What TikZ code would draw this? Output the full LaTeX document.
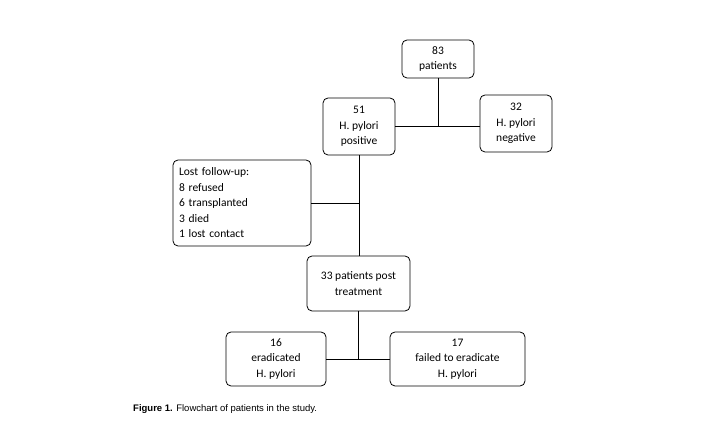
\documentclass[tikz,border=0pt]{standalone}
\usepackage{fontspec}
\setmainfont{Carlito}
\newfontfamily\capfont{Liberation Sans}
\begin{document}
\begin{tikzpicture}[x=1pt,y=-1pt,
  box/.style={draw,line width=0.8pt,rounded corners=5pt,align=center,inner sep=0pt,font=\fontsize{11.5}{15.5}\selectfont},
  ln/.style={line width=0.7pt}]
\useasboundingbox (0,0) rectangle (705,430);
\node[box,minimum width=72,minimum height=38] (a) at (438,59) {83\\patients};
\node[box,minimum width=72,minimum height=57] (b) at (359,126.5) {51\\H. pylori\\positive};
\node[box,minimum width=72,minimum height=57] (c) at (516,123.5) {32\\H. pylori\\negative};
\node[box,minimum width=138,minimum height=86,align=left,text width=126] (d) at (242,203) {Lost follow-up:\\8 refused\\6 transplanted\\3 died\\1 lost contact};
\node[box,minimum width=103,minimum height=55] (e) at (358.5,283.5) {33 patients post\\treatment};
\node[box,minimum width=100,minimum height=54] (f) at (276,359) {16\\eradicated\\H. pylori};
\node[box,minimum width=135,minimum height=54] (g) at (457.5,359) {17\\failed to eradicate\\H. pylori};
\coordinate (j1) at (438,126);
\coordinate (j2) at (359,203);
\coordinate (j3) at (358.5,359);
\draw[ln] (a.south) -- (j1);
\draw[ln] (b.east |- j1) -- (c.west |- j1);
\draw[ln] (b.south) -- (b.south |- e.north);
\draw[ln] (d.east |- j2) -- (j2);
\draw[ln] (e.south) -- (j3);
\draw[ln] (f.east) -- (g.west);
\node[anchor=west,inner sep=0pt,font=\capfont\fontsize{9.5}{11}\selectfont] (cap) at (133,409) {\textbf{Figure 1.} Flowchart of patients in the study.};
\end{tikzpicture}
\end{document}
